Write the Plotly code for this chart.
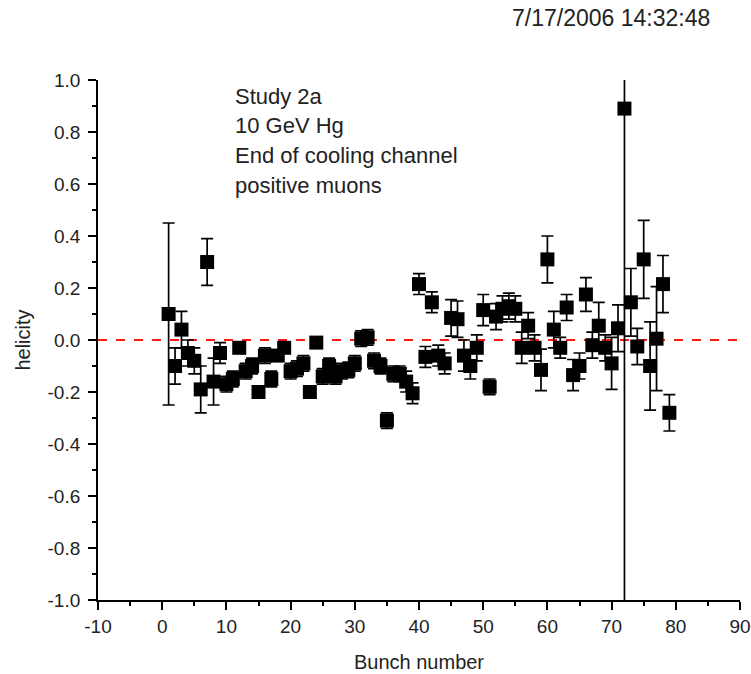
import plotly.graph_objects as go

bunch = list(range(1, 80))
helicity = [
    0.10, -0.10, 0.04, -0.05, -0.08, -0.19, 0.30, -0.16, -0.05, -0.17,
    -0.15, -0.03, -0.12, -0.10, -0.20, -0.06, -0.15, -0.06, -0.03, -0.12,
    -0.11, -0.09, -0.20, -0.01, -0.14, -0.10, -0.14, -0.12, -0.115, -0.09,
    0.005, 0.01, -0.08, -0.10, -0.31, -0.13, -0.13, -0.16, -0.205, 0.215,
    -0.065, 0.145, -0.06, -0.09, 0.085, 0.08, -0.06, -0.10, -0.03, 0.115,
    -0.18, 0.09, 0.12, 0.13, 0.12, -0.03, 0.055, -0.03, -0.115, 0.31,
    0.04, -0.03, 0.125, -0.135, -0.10, 0.175, -0.02, 0.055, -0.03, -0.09,
    0.045, 0.89, 0.145, -0.025, 0.31, -0.10, 0.005, 0.215, -0.28,
]
errors = [
    0.35, 0.07, 0.07, 0.05, 0.05, 0.09, 0.09, 0.09, 0.04, 0.03,
    0.03, 0.02, 0.03, 0.03, 0.02, 0.03, 0.03, 0.02, 0.02, 0.03,
    0.03, 0.03, 0.02, 0.02, 0.03, 0.03, 0.03, 0.03, 0.03, 0.03,
    0.03, 0.03, 0.03, 0.03, 0.03, 0.03, 0.03, 0.04, 0.04, 0.04,
    0.04, 0.04, 0.04, 0.04, 0.07, 0.07, 0.06, 0.05, 0.05, 0.06,
    0.03, 0.05, 0.05, 0.05, 0.05, 0.06, 0.05, 0.05, 0.08, 0.09,
    0.07, 0.04, 0.05, 0.06, 0.05, 0.065, 0.05, 0.09, 0.05, 0.10,
    0.09, 2.5, 0.13, 0.07, 0.15, 0.17, 0.20, 0.11, 0.07,
]

x_ticks = list(range(-10, 91, 10))
x_labels = [str(v) for v in x_ticks]
y_ticks = [round(-1.0 + 0.2 * i, 1) for i in range(11)]
y_labels = [f"{v:.1f}" for v in y_ticks]

timestamp = "7/17/2006 14:32:48"
notes = ["Study 2a", "10 GeV Hg", "End of cooling channel", "positive muons"]
note_y = [0.969, 0.912, 0.855, 0.797]

FONT = "Liberation Sans, Arial, sans-serif"

fig = go.Figure()

fig.add_trace(go.Scatter(
    x=[-10, 90], y=[0, 0], mode="lines",
    line=dict(color="#ff1a1a", width=2, dash="dash"),
    hoverinfo="skip", showlegend=False,
))

fig.add_trace(go.Scatter(
    x=bunch, y=helicity, mode="markers",
    marker=dict(symbol="square", size=14, color="black"),
    error_y=dict(type="data", array=errors, visible=True,
                 color="black", thickness=1.7, width=6),
    showlegend=False,
))

fig.add_annotation(
    x=0.956, y=1.119, xref="paper", yref="paper", yanchor="middle",
    xanchor="right", text=timestamp, showarrow=False,
    font=dict(family=FONT, size=23, color="#222"),
)

for txt, yy in zip(notes, note_y):
    fig.add_annotation(
        x=0.210, y=yy, xref="paper", yref="paper",
        xanchor="left", yanchor="middle", align="left",
        text=txt, showarrow=False,
        font=dict(family=FONT, size=22, color="#222"),
    )

fig.update_layout(
    width=751, height=674,
    margin=dict(l=98, r=11, t=80, b=74),
    paper_bgcolor="white", plot_bgcolor="white",
    font=dict(family=FONT, size=18, color="#222"),
    xaxis=dict(
        range=[-10, 90], tickvals=x_ticks, ticktext=x_labels,
        ticks="outside", ticklen=8,
        tickwidth=1.5, tickcolor="black", showline=True, linecolor="black",
        linewidth=1.8, showgrid=False, zeroline=False, automargin=False,
        minor=dict(ticks="outside", ticklen=4, dtick=5, tick0=-10,
                   tickwidth=1.5, tickcolor="black", showgrid=False),
        title=dict(text="Bunch number", font=dict(size=20), standoff=19),
        tickfont=dict(size=19),
    ),
    yaxis=dict(
        range=[-1.0, 1.0], tickvals=y_ticks, ticktext=y_labels,
        ticks="outside", ticklen=8, tickwidth=1.5, tickcolor="black",
        showline=True, linecolor="black", linewidth=1.8, showgrid=False,
        zeroline=False, automargin=False, ticklabelstandoff=4,
        minor=dict(ticks="outside", ticklen=4, dtick=0.1, tick0=-1.0,
                   tickwidth=1.5, tickcolor="black", showgrid=False),
        title=dict(text="helicity", font=dict(size=20), standoff=12),
        tickfont=dict(size=19),
    ),
)

fig.write_html(
    "out.html",
    config={"displayModeBar": False},
    post_script="document.body.style.margin='0';"
                "document.body.style.overflow='hidden';",
)
